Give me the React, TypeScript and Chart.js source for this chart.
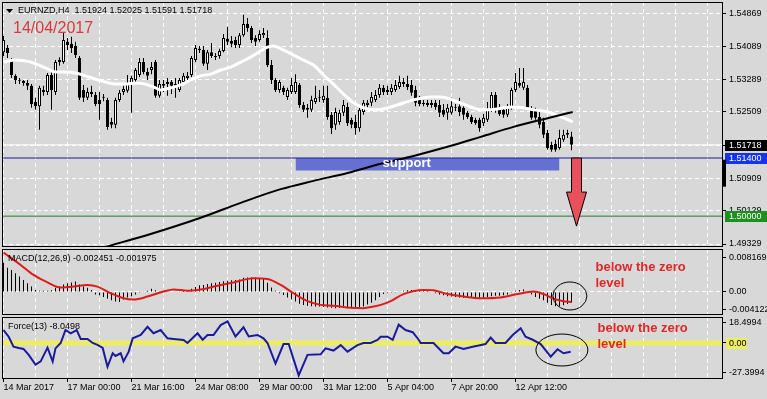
import React, { useEffect, useRef } from "react";
import { Chart, registerables } from "chart.js";

Chart.register(...registerables);

const FONT = "Liberation Sans";
const BG = "#d8d8d8";

const headerText = "EURNZD,H4  1.51924 1.52025 1.51591 1.51718";
const dateText = "14/04/2017";
const macdLegend = "MACD(12,26,9) -0.002451 -0.001975";
const forceLegend = "Force(13) -8.0498";
const noteLines = ["below the zero", "level"];
const supportText = "support";

const timeLabels = ["14 Mar 2017", "17 Mar 00:00", "21 Mar 16:00", "24 Mar 08:00", "29 Mar 00:00", "31 Mar 12:00", "5 Apr 04:00", "7 Apr 20:00", "12 Apr 12:00"];
const timeLabelBars = [0, 16, 32, 48, 64, 80, 96, 112, 128];
const gridBars = [0, 8, 16, 24, 32, 40, 48, 56, 64, 72, 80, 88, 96, 104, 112, 120, 128, 136, 144, 152, 160, 168, 176];

const opens = [
  1.5395, 1.5405, 1.5376, 1.5338, 1.5328, 1.5326, 1.5321, 1.5314, 1.5275, 1.5265,
  1.5304, 1.5299, 1.5340, 1.5299, 1.5371, 1.5371, 1.5420, 1.5415, 1.5410, 1.5381,
  1.5304, 1.5285, 1.5299, 1.5292, 1.5280, 1.5285, 1.5280, 1.5227, 1.5220, 1.5280,
  1.5299, 1.5302, 1.5321, 1.5328, 1.5340, 1.5371, 1.5347, 1.5352, 1.5371, 1.5290,
  1.5314, 1.5318, 1.5323, 1.5314, 1.5304, 1.5323, 1.5333, 1.5340, 1.5376, 1.5400,
  1.5400, 1.5367, 1.5395, 1.5386, 1.5386, 1.5398, 1.5427, 1.5422, 1.5424, 1.5412,
  1.5436, 1.5463, 1.5453, 1.5429, 1.5424, 1.5436, 1.5429, 1.5364, 1.5328, 1.5304,
  1.5309, 1.5287, 1.5299, 1.5299, 1.5316, 1.5268, 1.5261, 1.5256, 1.5275, 1.5285,
  1.5280, 1.5285, 1.5244, 1.5220, 1.5227, 1.5249, 1.5263, 1.5232, 1.5227, 1.5212,
  1.5251, 1.5268, 1.5273, 1.5280, 1.5292, 1.5309, 1.5299, 1.5299, 1.5304, 1.5311,
  1.5323, 1.5318, 1.5316, 1.5304, 1.5280, 1.5273, 1.5273, 1.5273, 1.5273, 1.5268,
  1.5256, 1.5249, 1.5249, 1.5263, 1.5265, 1.5261, 1.5249, 1.5239, 1.5232, 1.5232,
  1.5224, 1.5232, 1.5256, 1.5292, 1.5256, 1.5256, 1.5244, 1.5261, 1.5304, 1.5321,
  1.5309, 1.5309, 1.5256, 1.5253, 1.5239, 1.5227, 1.5200, 1.5172, 1.5174, 1.5164,
  1.5184, 1.5196, 1.5192,
];
const highs = [
  1.5434, 1.5412, 1.5381, 1.5342, 1.5333, 1.5328, 1.5328, 1.5318, 1.5285, 1.5314,
  1.5314, 1.5345, 1.5347, 1.5376, 1.5383, 1.5441, 1.5429, 1.5432, 1.5420, 1.5386,
  1.5316, 1.5309, 1.5314, 1.5299, 1.5299, 1.5294, 1.5285, 1.5237, 1.5285, 1.5304,
  1.5314, 1.5340, 1.5338, 1.5357, 1.5381, 1.5381, 1.5357, 1.5371, 1.5376, 1.5328,
  1.5328, 1.5333, 1.5328, 1.5333, 1.5333, 1.5345, 1.5347, 1.5386, 1.5412, 1.5410,
  1.5410, 1.5400, 1.5417, 1.5393, 1.5403, 1.5439, 1.5456, 1.5434, 1.5432, 1.5441,
  1.5485, 1.5477, 1.5458, 1.5436, 1.5448, 1.5453, 1.5448, 1.5376, 1.5333, 1.5328,
  1.5314, 1.5309, 1.5333, 1.5342, 1.5321, 1.5275, 1.5270, 1.5290, 1.5314, 1.5304,
  1.5314, 1.5314, 1.5251, 1.5261, 1.5256, 1.5280, 1.5273, 1.5237, 1.5244, 1.5261,
  1.5280, 1.5280, 1.5299, 1.5304, 1.5318, 1.5316, 1.5314, 1.5318, 1.5328, 1.5338,
  1.5333, 1.5338, 1.5328, 1.5314, 1.5290, 1.5280, 1.5280, 1.5280, 1.5280, 1.5280,
  1.5270, 1.5270, 1.5285, 1.5270, 1.5285, 1.5265, 1.5253, 1.5244, 1.5237, 1.5237,
  1.5246, 1.5275, 1.5299, 1.5299, 1.5270, 1.5261, 1.5270, 1.5309, 1.5345, 1.5357,
  1.5357, 1.5316, 1.5265, 1.5261, 1.5251, 1.5237, 1.5208, 1.5179, 1.5184, 1.5208,
  1.5208, 1.5208, 1.5203,
];
const lows = [
  1.5386, 1.5381, 1.5333, 1.5318, 1.5318, 1.5314, 1.5304, 1.5261, 1.5256, 1.5208,
  1.5290, 1.5292, 1.5256, 1.5292, 1.5362, 1.5367, 1.5400, 1.5393, 1.5381, 1.5280,
  1.5275, 1.5280, 1.5287, 1.5265, 1.5232, 1.5277, 1.5208, 1.5212, 1.5212, 1.5275,
  1.5292, 1.5297, 1.5249, 1.5323, 1.5335, 1.5342, 1.5328, 1.5342, 1.5285, 1.5285,
  1.5299, 1.5290, 1.5294, 1.5285, 1.5299, 1.5318, 1.5323, 1.5335, 1.5371, 1.5393,
  1.5362, 1.5352, 1.5381, 1.5376, 1.5379, 1.5395, 1.5412, 1.5407, 1.5405, 1.5405,
  1.5432, 1.5444, 1.5417, 1.5410, 1.5420, 1.5429, 1.5359, 1.5318, 1.5299, 1.5297,
  1.5292, 1.5280, 1.5294, 1.5294, 1.5261, 1.5251, 1.5237, 1.5251, 1.5270, 1.5275,
  1.5273, 1.5232, 1.5198, 1.5208, 1.5220, 1.5241, 1.5217, 1.5212, 1.5196, 1.5203,
  1.5244, 1.5261, 1.5265, 1.5275, 1.5285, 1.5292, 1.5292, 1.5292, 1.5299, 1.5306,
  1.5311, 1.5304, 1.5290, 1.5265, 1.5265, 1.5265, 1.5263, 1.5261, 1.5256, 1.5239,
  1.5239, 1.5232, 1.5244, 1.5253, 1.5241, 1.5232, 1.5234, 1.5222, 1.5220, 1.5203,
  1.5217, 1.5227, 1.5251, 1.5249, 1.5241, 1.5237, 1.5239, 1.5256, 1.5299, 1.5309,
  1.5304, 1.5256, 1.5232, 1.5232, 1.5212, 1.5188, 1.5160, 1.5155, 1.5155, 1.5160,
  1.5179, 1.5188, 1.5159,
];
const closes = [
  1.5424, 1.5393, 1.5340, 1.5328, 1.5326, 1.5321, 1.5314, 1.5270, 1.5265, 1.5309,
  1.5299, 1.5340, 1.5304, 1.5371, 1.5376, 1.5424, 1.5412, 1.5405, 1.5388, 1.5285,
  1.5285, 1.5299, 1.5294, 1.5270, 1.5270, 1.5287, 1.5215, 1.5220, 1.5280, 1.5297,
  1.5306, 1.5321, 1.5333, 1.5352, 1.5371, 1.5347, 1.5338, 1.5359, 1.5290, 1.5318,
  1.5318, 1.5323, 1.5314, 1.5318, 1.5328, 1.5338, 1.5338, 1.5381, 1.5405, 1.5403,
  1.5367, 1.5395, 1.5386, 1.5383, 1.5398, 1.5429, 1.5420, 1.5415, 1.5412, 1.5436,
  1.5463, 1.5453, 1.5424, 1.5420, 1.5439, 1.5441, 1.5364, 1.5328, 1.5304, 1.5323,
  1.5299, 1.5304, 1.5316, 1.5323, 1.5268, 1.5256, 1.5256, 1.5280, 1.5285, 1.5287,
  1.5290, 1.5239, 1.5212, 1.5251, 1.5249, 1.5268, 1.5224, 1.5220, 1.5212, 1.5256,
  1.5273, 1.5273, 1.5287, 1.5292, 1.5309, 1.5299, 1.5304, 1.5309, 1.5316, 1.5323,
  1.5318, 1.5311, 1.5297, 1.5273, 1.5270, 1.5270, 1.5268, 1.5268, 1.5263, 1.5249,
  1.5244, 1.5261, 1.5265, 1.5261, 1.5251, 1.5244, 1.5239, 1.5227, 1.5224, 1.5212,
  1.5237, 1.5256, 1.5292, 1.5256, 1.5246, 1.5244, 1.5261, 1.5304, 1.5323, 1.5314,
  1.5323, 1.5261, 1.5237, 1.5237, 1.5220, 1.5196, 1.5164, 1.5160, 1.5160, 1.5188,
  1.5196, 1.5200, 1.5172,
];

const whiteMaBars = [0, 3, 6.8, 10.5, 13, 15.5, 18, 20.5, 23, 25.5, 28, 30.5, 33, 35.5, 38, 39.3, 41.8, 44.3, 46.8, 49.3, 51.8, 54.3, 56.8, 59.3, 61.8, 64.3, 66, 67.5, 70, 72.5, 75, 77.5, 80, 82.5, 85, 87.5, 90, 92.5, 95, 98.5, 102.5, 106.8, 109.3, 113.5, 116.8, 119.3, 121.8, 125, 127.5, 130, 132.5, 136, 139.3, 142.3];
const whiteMaValues = [1.5371, 1.5376, 1.5371, 1.5357, 1.5347, 1.5347, 1.5345, 1.5338, 1.5330, 1.5323, 1.5318, 1.5318, 1.5321, 1.5318, 1.5309, 1.5304, 1.5309, 1.5316, 1.5328, 1.5338, 1.5342, 1.5352, 1.5359, 1.5371, 1.5383, 1.5398, 1.5407, 1.5410, 1.5400, 1.5388, 1.5376, 1.5364, 1.5340, 1.5318, 1.5294, 1.5273, 1.5261, 1.5256, 1.5258, 1.5268, 1.5280, 1.5287, 1.5287, 1.5275, 1.5263, 1.5256, 1.5256, 1.5261, 1.5263, 1.5261, 1.5256, 1.5251, 1.5239, 1.5227];

const blackMaBars = [25.5, 36.8, 49.3, 59.3, 69.3, 77.5, 86, 94.3, 102.5, 111, 119.3, 127.5, 136, 142.3];
const blackMaValues = [1.4926, 1.4957, 1.4996, 1.5032, 1.5065, 1.5085, 1.5104, 1.5126, 1.5145, 1.5167, 1.5191, 1.5215, 1.5236, 1.5251];

const priceTicks = [1.49329, 1.50129, 1.50909, 1.51709, 1.52509, 1.53289, 1.54089, 1.54869];
const priceMin = 1.49281;
const priceMax = 1.55158;
const bidPrice = 1.51718;
const supportPrice = 1.514;
const supportBottom = 1.511;
const supportFromBar = 73;
const supportToBar = 139;
const supportTextBar = 94.75;
const supportTextPrice = 1.5127;
const levelPrice = 1.5;
const arrowBar = 143;
const arrowNeck = 1.5058;
const arrowTip = 1.4976;

const macdHist = [
  0.0070, 0.0058, 0.0053, 0.0045, 0.0037, 0.0029, 0.0021, 0.0013, 0.0005, 0.0003,
  0.0003, 0.0003, 0.0004, 0.0010, 0.0013, 0.0018, 0.0021, 0.0023, 0.0025, 0.0018,
  0.0013, 0.0010, 0.0005, -0.0006, -0.0008, -0.0012, -0.0016, -0.0020, -0.0023, -0.0024,
  -0.0018, -0.0013, -0.0010, -0.0006, -0.0002, 0.0002, 0.0003, 0.0008, 0.0004, 0.0002,
  0.0002, 0.0001, 0.0001, 0.0001, 0.0002, 0.0003, 0.0005, 0.0008, 0.0012, 0.0016,
  0.0017, 0.0019, 0.0021, 0.0022, 0.0024, 0.0026, 0.0027, 0.0028, 0.0029, 0.0030,
  0.0034, 0.0035, 0.0035, 0.0034, 0.0033, 0.0032, 0.0022, 0.0011, 0.0003, -0.0003,
  -0.0007, -0.0013, -0.0018, -0.0023, -0.0028, -0.0031, -0.0033, -0.0034, -0.0035, -0.0035,
  -0.0036, -0.0037, -0.0038, -0.0039, -0.0038, -0.0038, -0.0039, -0.0039, -0.0039, -0.0037,
  -0.0035, -0.0030, -0.0026, -0.0020, -0.0012, -0.0005, -0.0003, -0.0002, -0.0002, 0.0001,
  0.0003, 0.0004, 0.0005, 0.0004, 0.0003, 0.0004, 0.0003, 0.0001, -0.0003, -0.0006,
  -0.0008, -0.0010, -0.0011, -0.0012, -0.0013, -0.0014, -0.0014, -0.0014, -0.0014, -0.0015,
  -0.0014, -0.0012, -0.0010, -0.0009, -0.0009, -0.0008, -0.0006, -0.0002, 0.0003, 0.0005,
  0.0006, 0.0002, -0.0006, -0.0012, -0.0016, -0.0020, -0.0026, -0.0031, -0.0034, -0.0034,
  -0.0032, -0.0029, -0.0025,
];
const signalBars = [0, 4.3, 7.5, 11, 14.3, 17.5, 21, 23.5, 26.8, 30, 32.5, 36, 40, 42.5, 46, 49.3, 53.5, 57.5, 62.5, 66, 69.3, 72.5, 76, 79.3, 82.5, 86.8, 90, 92.5, 94.3, 96.8, 100, 105, 107.5, 111, 115, 119.3, 124.3, 128.5, 132.5, 135, 137.5, 140, 142];
const signalValues = [0.0095, 0.0065, 0.0041, 0.0023, 0.0011, 0.0013, 0.0017, 0.0013, -0.0003, -0.0015, -0.0018, -0.0011, 0.0001, 0.0006, 0.0003, 0.0006, 0.0015, 0.0023, 0.0033, 0.0031, 0.0017, -0.0003, -0.0022, -0.0031, -0.0033, -0.0038, -0.0039, -0.0035, -0.0031, -0.0022, -0.0005, 0.0005, 0.0004, -0.0005, -0.0011, -0.0015, -0.0013, -0.0005, 0.0001, -0.0005, -0.0016, -0.0022, -0.0024];
const macdTicks = [-0.004122, 0, 0.008169];
const macdTickLabels = ["-0.004122", "0.00", "0.008169"];
const macdMin = -0.00529;
const macdMax = 0.01033;
const macdCircleBar = 141.6;
const macdCircleValue = -0.00096;

const forceBars = [0, 1.3, 2.5, 3.8, 5, 6.3, 8, 9.3, 11, 12.3, 13, 14.3, 15.5, 16.8, 18.3, 19.3, 21, 22.3, 23.5, 24.8, 26, 27.3, 28, 29.3, 30, 31.3, 32.3, 34.3, 36, 37.5, 39.3, 41, 42.5, 45, 46, 48.5, 49.8, 51, 52.5, 54.3, 56, 58, 60, 61.3, 63.5, 65, 66, 68, 70, 71.3, 73.8, 76, 79.3, 80.5, 82.5, 84.3, 86, 88.5, 90, 91.8, 93.5, 94.3, 96, 97.3, 98.8, 100.5, 102.3, 103.8, 104.3, 107.5, 110, 111.3, 113, 115, 117.3, 118.8, 120.5, 121.8, 123, 125.5, 127.3, 129.3, 130.5, 132.3, 134.3, 135.5, 136.8, 138.5, 140, 141.8];
const forceValues = [12, 5.8, -3.4, -4.6, -5.5, -11, -20, -17, -4.3, -17, -5, 0, 12, 9, 12, 3.7, 3.7, 0, -1.8, -4.6, -22, -9.5, -12, -9.5, -17, -8, 4.3, 7.4, 15, 9, 12, 4.3, 3.7, 2.8, 0, 9, 3, 7.4, 7.4, 16.6, 20, 6, 14.5, 6, 7.4, 4.3, 0, -19, -1, -1, -30, -11, -10.5, -5, -7, -2, -8, -2, 0, 0, 2.8, 5.8, 5.8, 3, 17, 12, 10, 3, 0, 0, -9.5, -9.5, -3.4, -5.5, -3.4, -2.4, -1, 5, 0, 0, 7.4, 13.6, 5.8, 3, -1, -6.5, -12.6, -5.8, -9.5, -8.05];
const forceTicks = [-27.3994, 0, 18.4994];
const forceTickLabels = ["-27.3994", "0.00", "18.4994"];
const forceMin = -32.4;
const forceMax = 24.05;
const forceCircleBar = 139.6;
const forceCircleValue = -6.5;
const noteBar = 148;

const xMin = -0.375;
const xMax = 179.625;

function xAxis(showLabels: boolean, height: number): any {
  return {
    type: "linear",
    min: xMin,
    max: xMax,
    offset: false,
    afterBuildTicks: (s: any) => {
      s.ticks = gridBars.map((v) => ({ value: v }));
    },
    afterFit: (s: any) => {
      s.height = height;
      s.paddingLeft = 0;
      s.paddingRight = 0;
    },
    grid: {
      display: true,
      offset: false,
      color: "#ffffff",
      lineWidth: 1,
      drawTicks: showLabels,
      tickLength: 4,
      tickWidth: 1,
      tickBorderDash: [],
      tickColor: (c: any) => (c.tick && timeLabelBars.includes(c.tick.value) ? "#000000" : "rgba(0,0,0,0)"),
    },
    border: { display: false, dash: [4, 3] },
    ticks: {
      display: showLabels,
      autoSkip: false,
      maxRotation: 0,
      minRotation: 0,
      align: "start",
      padding: 0,
      color: "#000",
      font: { family: FONT, size: 9 },
      callback: (v: any) => {
        const k = timeLabelBars.indexOf(v);
        return k >= 0 ? timeLabels[k] : "";
      },
    },
  };
}

function yAxis(min: number, max: number, ticks: number[], labels: string[], gridColor: any): any {
  return {
    type: "linear",
    position: "right",
    min,
    max,
    afterBuildTicks: (s: any) => {
      s.ticks = ticks.map((v) => ({ value: v }));
    },
    afterFit: (s: any) => {
      s.width = 45;
      s.paddingTop = 0;
      s.paddingBottom = 0;
    },
    grid: {
      color: gridColor,
      drawTicks: true,
      tickLength: 4,
      tickWidth: 1,
      tickColor: "#000",
      tickBorderDash: [],
    },
    border: { display: false, dash: [4, 3] },
    ticks: {
      padding: 3,
      color: "#000",
      font: { family: FONT, size: 9 },
      callback: (v: any) => {
        const k = ticks.indexOf(v);
        return k >= 0 ? labels[k] : "";
      },
    },
  };
}

function drawBorder(chart: any) {
  const { ctx, chartArea: a } = chart;
  ctx.save();
  ctx.strokeStyle = "#000";
  ctx.lineWidth = 1;
  ctx.setLineDash([]);
  ctx.strokeRect(a.left + 0.5, a.top + 0.5, a.right - a.left, a.bottom - a.top);
  ctx.restore();
}

function drawNote(chart: any, x: number, y1: number, y2: number) {
  const ctx = chart.ctx;
  ctx.save();
  ctx.font = `bold 13px "${FONT}"`;
  ctx.fillStyle = "#e02626";
  ctx.textBaseline = "middle";
  ctx.textAlign = "left";
  ctx.fillText(noteLines[0], x, y1);
  ctx.fillText(noteLines[1], x, y2);
  ctx.restore();
}

function drawEllipse(chart: any, cx: number, cy: number, rx: number, ry: number) {
  const ctx = chart.ctx;
  ctx.save();
  ctx.strokeStyle = "#000";
  ctx.lineWidth = 1;
  ctx.beginPath();
  ctx.ellipse(cx, cy, rx, ry, 0, 0, Math.PI * 2);
  ctx.stroke();
  ctx.restore();
}

function hLine(value: number, color: string, width: number, order: number): any {
  return {
    type: "line",
    data: [
      { x: xMin, y: value },
      { x: xMax, y: value },
    ],
    borderColor: color,
    borderWidth: width,
    pointRadius: 0,
    tension: 0,
    fill: false,
    order,
  };
}

const mainPlugin = {
  id: "mainDecor",
  afterDraw(chart: any) {
    const { ctx, chartArea: a, scales } = chart;
    const x = scales.x;
    const y = scales.y;
    drawBorder(chart);
    ctx.save();
    // header
    ctx.fillStyle = "#000";
    ctx.beginPath();
    ctx.moveTo(6, 9);
    ctx.lineTo(13, 9);
    ctx.lineTo(9.5, 13);
    ctx.closePath();
    ctx.fill();
    ctx.font = `9px "${FONT}"`;
    ctx.textBaseline = "middle";
    ctx.textAlign = "left";
    ctx.fillText(headerText, 18, 11);
    ctx.font = `16px "${FONT}"`;
    ctx.fillStyle = "#d63a3a";
    ctx.textBaseline = "alphabetic";
    ctx.fillText(dateText, 13, 33);
    // support label
    ctx.font = `bold 13px "${FONT}"`;
    ctx.fillStyle = "#ffffff";
    ctx.textBaseline = "middle";
    ctx.fillText(supportText, x.getPixelForValue(supportTextBar), y.getPixelForValue(supportTextPrice));
    // arrow
    const cx = Math.round(x.getPixelForValue(arrowBar)) + 0.5;
    const yTop = y.getPixelForValue(supportPrice);
    const yNeck = y.getPixelForValue(arrowNeck);
    const yTip = y.getPixelForValue(arrowTip);
    ctx.beginPath();
    ctx.moveTo(cx - 5, yTop);
    ctx.lineTo(cx + 5, yTop);
    ctx.lineTo(cx + 5, yNeck);
    ctx.lineTo(cx + 10, yNeck);
    ctx.lineTo(cx, yTip);
    ctx.lineTo(cx - 10, yNeck);
    ctx.lineTo(cx - 5, yNeck);
    ctx.closePath();
    ctx.fillStyle = "#e8505c";
    ctx.fill();
    ctx.strokeStyle = "#000";
    ctx.lineWidth = 1;
    ctx.stroke();
    // right price boxes
    const boxes: [number, string][] = [
      [bidPrice, "#000000"],
      [supportPrice, "#1434f0"],
      [levelPrice, "#1f8f1f"],
    ];
    ctx.font = `9px "${FONT}"`;
    for (const [v, bg] of boxes) {
      const py = Math.round(y.getPixelForValue(v));
      ctx.fillStyle = bg;
      ctx.fillRect(a.right + 3, py - 5, 767 - a.right - 3, 11);
      ctx.fillStyle = "#ffffff";
      ctx.fillText(v.toFixed(5), a.right + 7, py + 0.5);
    }
    ctx.fillStyle = "#000";
    ctx.fillRect(a.right, y.getPixelForValue(1.5136), 4, 27);
    ctx.restore();
  },
};

const macdPlugin = {
  id: "macdDecor",
  afterDraw(chart: any) {
    const { ctx, chartArea: a, scales } = chart;
    drawBorder(chart);
    ctx.save();
    ctx.font = `9px "${FONT}"`;
    ctx.fillStyle = "#000";
    ctx.textBaseline = "middle";
    ctx.fillText(macdLegend, 8, a.top + 10);
    ctx.restore();
    const nx = scales.x.getPixelForValue(noteBar);
    drawNote(chart, nx, a.top + 18, a.top + 34);
    drawEllipse(chart, scales.x.getPixelForValue(macdCircleBar), scales.y.getPixelForValue(macdCircleValue), 17, 14);
  },
};

const forcePlugin = {
  id: "forceDecor",
  afterDraw(chart: any) {
    const { ctx, chartArea: a, scales } = chart;
    drawBorder(chart);
    ctx.save();
    ctx.font = `9px "${FONT}"`;
    ctx.fillStyle = "#000";
    ctx.textBaseline = "middle";
    ctx.fillText(forceLegend, 8, a.top + 10);
    const py = Math.round(scales.y.getPixelForValue(0));
    ctx.fillStyle = "#eded62";
    ctx.fillRect(a.right + 4, py - 5, 21, 11);
    ctx.fillStyle = "#000";
    ctx.fillText(forceTickLabels[1], a.right + 7, py + 0.5);
    ctx.restore();
    const nx = scales.x.getPixelForValue(noteBar) + 2;
    drawNote(chart, nx, a.top + 11, a.top + 27);
    drawEllipse(chart, scales.x.getPixelForValue(forceCircleBar), scales.y.getPixelForValue(forceCircleValue), 26, 16);
  },
};

const baseOptions = (padding: any, scales: any): any => ({
  responsive: false,
  animation: false,
  events: [],
  layout: { padding, autoPadding: false },
  plugins: { legend: { display: false }, tooltip: { enabled: false } },
  scales,
});

function mainConfig(): any {
  const bars = opens.map((_, i) => i);
  return {
    type: "bar",
    data: {
      datasets: [
        {
          type: "line",
          data: [
            { x: supportFromBar, y: supportPrice },
            { x: supportToBar, y: supportPrice },
          ],
          borderWidth: 0,
          borderColor: "rgba(0,0,0,0)",
          pointRadius: 0,
          fill: false,
          order: 30,
        },
        {
          type: "line",
          data: [
            { x: supportFromBar, y: supportBottom },
            { x: supportToBar, y: supportBottom },
          ],
          borderWidth: 0,
          borderColor: "rgba(0,0,0,0)",
          backgroundColor: "#6670d2",
          pointRadius: 0,
          fill: "-1",
          order: 29,
        },
        hLine(bidPrice, "#ffffff", 1, 28),
        hLine(supportPrice, "#1c1c96", 1, 27),
        hLine(levelPrice, "#2a7a2a", 1, 26),
        {
          type: "bar",
          data: bars.map((i) => ({ x: i, y: [lows[i], highs[i]] })),
          backgroundColor: "#000",
          borderWidth: 0,
          barThickness: 1,
          grouped: false,
          inflateAmount: 0,
          order: 10,
        },
        {
          type: "bar",
          data: bars.map((i) => ({ x: i, y: [opens[i], closes[i]] })),
          backgroundColor: bars.map((i) => (closes[i] >= opens[i] ? "#ffffff" : "#000000")),
          borderColor: "#000",
          borderWidth: 1,
          borderSkipped: false,
          barThickness: 3,
          minBarLength: 1,
          grouped: false,
          inflateAmount: 0,
          order: 9,
        },
        {
          type: "line",
          data: whiteMaBars.map((b, k) => ({ x: b, y: whiteMaValues[k] })),
          borderColor: "#ffffff",
          borderWidth: 3,
          pointRadius: 0,
          cubicInterpolationMode: "monotone",
          fill: false,
          order: 5,
        },
        {
          type: "line",
          data: blackMaBars.map((b, k) => ({ x: b, y: blackMaValues[k] })),
          borderColor: "#000000",
          borderWidth: 2,
          pointRadius: 0,
          cubicInterpolationMode: "monotone",
          fill: false,
          order: 4,
        },
      ],
    },
    options: baseOptions({ left: 2, top: 2, right: 0, bottom: 153 }, {
      x: xAxis(false, 0),
      y: yAxis(priceMin, priceMax, priceTicks, priceTicks.map((v) => v.toFixed(5)), "#ffffff"),
    }),
    plugins: [mainPlugin],
  };
}

function macdConfig(): any {
  return {
    type: "bar",
    data: {
      datasets: [
        {
          type: "bar",
          data: macdHist.map((v, i) => ({ x: i, y: v })),
          backgroundColor: "#000",
          borderWidth: 0,
          barThickness: 1,
          grouped: false,
          inflateAmount: 0,
          order: 5,
        },
        {
          type: "line",
          data: signalBars.map((b, k) => ({ x: b, y: signalValues[k] })),
          borderColor: "#e01a1a",
          borderWidth: 2,
          pointRadius: 0,
          cubicInterpolationMode: "monotone",
          fill: false,
          order: 1,
        },
      ],
    },
    options: baseOptions({ left: 2, top: 249, right: 0, bottom: 85 }, {
      x: xAxis(false, 0),
      y: yAxis(macdMin, macdMax, macdTicks, macdTickLabels, (c: any) => (c.tick && c.tick.value === 0 ? "#ffffff" : "rgba(0,0,0,0)")),
    }),
    plugins: [macdPlugin],
  };
}

function forceConfig(): any {
  return {
    type: "line",
    data: {
      datasets: [
        hLine(0, "#eded62", 5, 5),
        {
          type: "line",
          data: forceBars.map((b, k) => ({ x: b, y: forceValues[k] })),
          borderColor: "#1a1a9c",
          borderWidth: 2,
          pointRadius: 0,
          tension: 0,
          fill: false,
          order: 1,
        },
      ],
    },
    options: baseOptions({ left: 2, top: 317, right: 0, bottom: 0 }, {
      x: xAxis(true, 21),
      y: yAxis(forceMin, forceMax, forceTicks, forceTickLabels, "rgba(0,0,0,0)"),
    }),
    plugins: [forcePlugin],
  };
}

export default function App() {
  const mainRef = useRef<HTMLCanvasElement>(null);
  const macdRef = useRef<HTMLCanvasElement>(null);
  const forceRef = useRef<HTMLCanvasElement>(null);

  useEffect(() => {
    document.body.style.margin = "0";
    document.body.style.background = BG;
    const charts = [
      new Chart(mainRef.current as HTMLCanvasElement, mainConfig()),
      new Chart(macdRef.current as HTMLCanvasElement, macdConfig()),
      new Chart(forceRef.current as HTMLCanvasElement, forceConfig()),
    ];
    return () => charts.forEach((c) => c.destroy());
  }, []);

  const cs: React.CSSProperties = { position: "absolute", left: 0, top: 0, width: 767, height: 399 };
  return (
    <div style={{ position: "absolute", left: 0, top: 0, width: 767, height: 399, background: BG, overflow: "hidden" }}>
      <canvas ref={mainRef} width={767} height={399} style={cs} />
      <canvas ref={macdRef} width={767} height={399} style={cs} />
      <canvas ref={forceRef} width={767} height={399} style={cs} />
    </div>
  );
}
